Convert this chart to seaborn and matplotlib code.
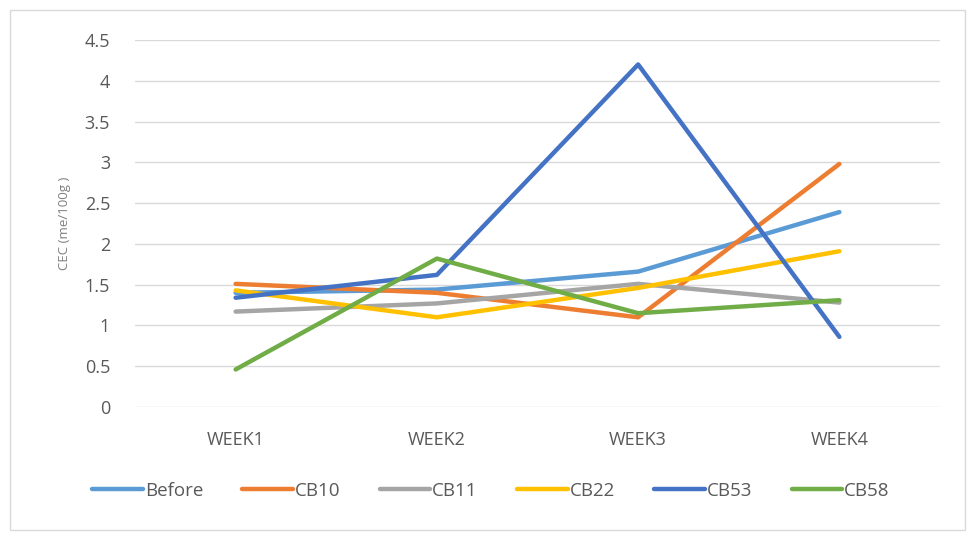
import matplotlib
matplotlib.use("Agg")
import matplotlib.pyplot as plt
import seaborn as sns
import pandas as pd

# data
weeks = ["WEEK1", "WEEK2", "WEEK3", "WEEK4"]
before = [1.40, 1.44, 1.66, 2.39]
cb10 = [1.51, 1.40, 1.10, 2.98]
cb11 = [1.17, 1.27, 1.51, 1.28]
cb22 = [1.43, 1.10, 1.46, 1.91]
cb53 = [1.34, 1.62, 4.20, 0.86]
cb58 = [0.46, 1.82, 1.15, 1.31]

series_names = ["Before", "CB10", "CB11", "CB22", "CB53", "CB58"]
series_vals = [before, cb10, cb11, cb22, cb53, cb58]
colors = ["#5B9BD5", "#ED7D31", "#A5A5A5", "#FFC000", "#4472C4", "#70AD47"]

rows = []
for name, vals in zip(series_names, series_vals):
    for i, v in enumerate(vals):
        rows.append({"week": i, "series": name, "value": v})
df = pd.DataFrame(rows)

sns.set_style("white")
plt.rcParams["font.family"] = ["Open Sans", "DejaVu Sans"]

fig = plt.figure(figsize=(9.72, 5.39), dpi=100)
ax = fig.add_axes([135 / 972, 1 - 407 / 539, (940 - 135) / 972, (407 - 40) / 539])

sns.lineplot(data=df, x="week", y="value", hue="series", hue_order=series_names,
             palette=colors, linewidth=3.2, ax=ax, legend=False,
             solid_capstyle="round", solid_joinstyle="round")

ax.set_xlim(-0.5, 3.5)
ax.set_ylim(0, 4.5)
ax.set_yticks([0, 0.5, 1, 1.5, 2, 2.5, 3, 3.5, 4, 4.5])
ax.set_yticklabels(["0", "0.5", "1", "1.5", "2", "2.5", "3", "3.5", "4", "4.5"])
ax.set_xticks(range(len(weeks)))
ax.set_xticklabels(weeks)
ax.tick_params(axis="both", length=0, labelsize=13, colors="#595959")
ax.tick_params(axis="y", pad=18)
ax.tick_params(axis="x", pad=17)
ax.grid(axis="y", color="#D9D9D9", linewidth=1)
ax.set_axisbelow(True)
for s in ax.spines.values():
    s.set_visible(False)
ax.set_xlabel("")
ax.set_ylabel("CEC (me/100g )", fontsize=9.5, color="#7F7F7F")
ax.yaxis.set_label_coords(-0.08, 0.5)

# legend
handles = [plt.Line2D([0], [0], color=c, linewidth=3.2, solid_capstyle="round") for c in colors]
fig.legend(handles, series_names, loc="center", bbox_to_anchor=(0.505, 1 - 491 / 539),
           ncol=6, frameon=False, fontsize=13.5, handlelength=2.7, handletextpad=0.1,
           columnspacing=2.1, labelcolor="#595959")

# outer border
fig.patches.append(plt.Rectangle((10 / 972, 1 - 530 / 539), 955 / 972, 520 / 539,
                                 transform=fig.transFigure, fill=False,
                                 edgecolor="#D9D9D9", linewidth=1))

fig.savefig("out.png", dpi=100)
